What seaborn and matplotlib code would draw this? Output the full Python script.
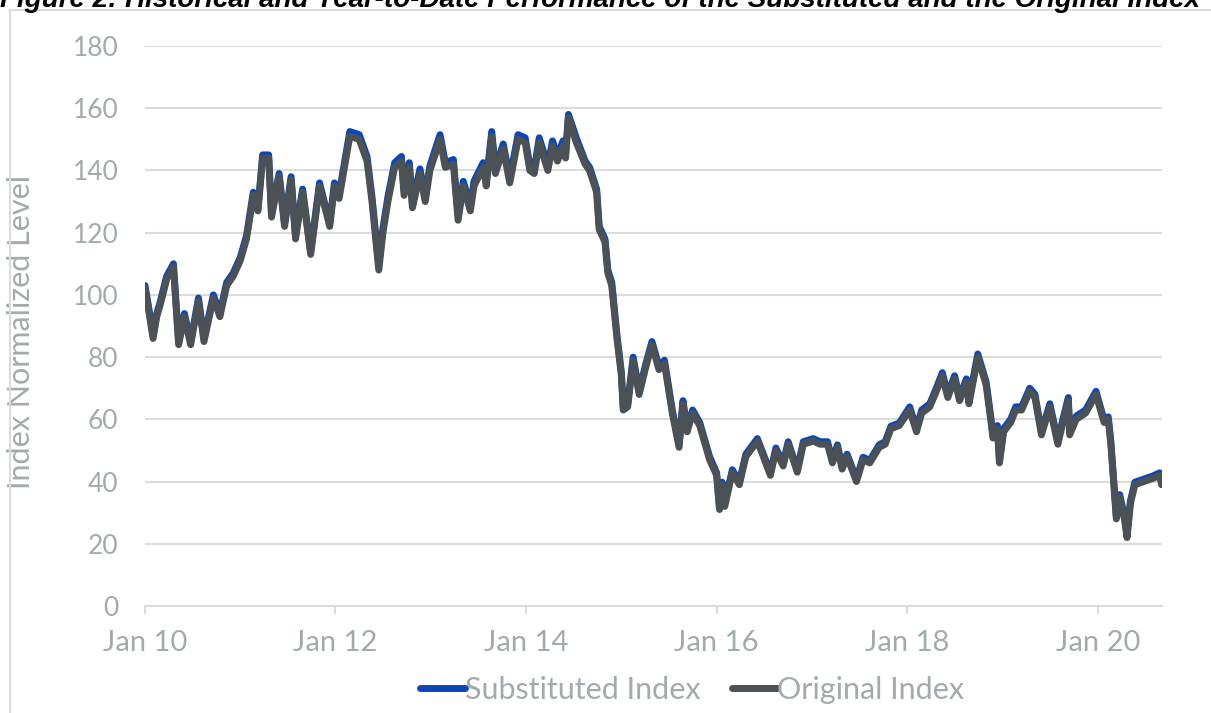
import matplotlib.pyplot as plt
import matplotlib.patches as mpatches
import pandas as pd
import seaborn as sns

# Datas (pontos aproximados da série)
dates = [
    "2010-01-01", "2010-01-15", "2010-02-01", "2010-02-15", "2010-03-01", "2010-03-25", "2010-04-20", "2010-05-10",
    "2010-06-01", "2010-06-25", "2010-07-25", "2010-08-15", "2010-09-20", "2010-10-15", "2010-11-10", "2010-12-05",
    "2011-01-01", "2011-01-25", "2011-02-20", "2011-03-10", "2011-03-28", "2011-04-20", "2011-05-01", "2011-05-30",
    "2011-06-20", "2011-07-15", "2011-08-01", "2011-08-28", "2011-09-28", "2011-11-01", "2011-12-10", "2011-12-28",
    "2012-01-15", "2012-02-25", "2012-04-01", "2012-05-01", "2012-05-20", "2012-06-15", "2012-07-01", "2012-07-20",
    "2012-08-15", "2012-09-10", "2012-09-20", "2012-10-10", "2012-10-22", "2012-11-20", "2012-12-10", "2012-12-28",
    "2013-02-05", "2013-02-25", "2013-03-28", "2013-04-15", "2013-05-05", "2013-06-01", "2013-06-15", "2013-07-20",
    "2013-08-01", "2013-08-22", "2013-09-05", "2013-10-05", "2013-10-30", "2013-12-01", "2013-12-28",
    "2014-01-15", "2014-02-01", "2014-02-20", "2014-03-25", "2014-04-12", "2014-05-01", "2014-05-22", "2014-06-01",
    "2014-06-12", "2014-07-12", "2014-08-15", "2014-09-01", "2014-09-28", "2014-10-08", "2014-10-30", "2014-11-10",
    "2014-11-25", "2014-12-15",
    "2015-01-01", "2015-01-08", "2015-01-25", "2015-02-15", "2015-03-10", "2015-04-05", "2015-04-28", "2015-05-25",
    "2015-06-15", "2015-07-15", "2015-08-10", "2015-08-25", "2015-09-10", "2015-10-01", "2015-10-28", "2015-12-05",
    "2016-01-01", "2016-01-12", "2016-01-22", "2016-02-01", "2016-03-01", "2016-03-28", "2016-04-22", "2016-06-05",
    "2016-06-28", "2016-07-25", "2016-08-15", "2016-09-12", "2016-10-01", "2016-11-05", "2016-11-28",
    "2017-01-05", "2017-02-01", "2017-03-01", "2017-03-20", "2017-04-08", "2017-04-26", "2017-05-15", "2017-06-20",
    "2017-07-15", "2017-08-10", "2017-09-15", "2017-10-08", "2017-10-30", "2017-12-01",
    "2018-01-10", "2018-02-05", "2018-02-25", "2018-03-28", "2018-04-22", "2018-05-15", "2018-06-05", "2018-07-01",
    "2018-07-20", "2018-08-15", "2018-08-25", "2018-09-28", "2018-10-30", "2018-11-18", "2018-11-25", "2018-12-12",
    "2018-12-20",
    "2019-01-05", "2019-02-01", "2019-02-20", "2019-03-15", "2019-04-15", "2019-05-05", "2019-05-30", "2019-07-01",
    "2019-08-01", "2019-08-20", "2019-09-10", "2019-09-15", "2019-10-10", "2019-11-15", "2019-12-25",
    "2020-01-25", "2020-02-10", "2020-02-20", "2020-03-05", "2020-03-12", "2020-03-25", "2020-04-12", "2020-04-22",
    "2020-05-05", "2020-05-22", "2020-06-25", "2020-07-30", "2020-08-25", "2020-09-01",
]

original = [
    102, 95, 86, 93, 97, 105, 109, 84, 93, 84, 98, 85, 99, 93, 103, 106,
    111, 118, 132, 127, 144, 144, 125, 138, 122, 137, 118, 133, 113, 135, 122, 135,
    131, 151, 150, 143, 130, 108, 120, 130, 141, 143, 132, 141, 128, 139, 130, 140,
    150, 141, 142, 124, 135, 127, 135, 141, 135, 151, 139, 147, 136, 150, 149,
    140, 139, 149, 140, 148, 143, 148, 144, 157, 149, 142, 140, 133, 121, 117, 107, 103, 86,
    74, 63, 64, 79, 68, 77, 84, 76, 78, 62, 51, 65, 56, 62, 58, 47,
    42, 31, 39, 32, 43, 39, 48, 53, 48, 42, 50, 45, 52, 43, 52,
    53, 52, 52, 46, 51, 44, 48, 40, 47, 46, 51, 52, 57, 58,
    63, 56, 62, 64, 69, 74, 67, 73, 66, 72, 65, 80, 71, 59, 54, 57, 46,
    56, 59, 63, 63, 69, 67, 55, 64, 52, 59, 66, 55, 60, 62, 68,
    59, 60, 52, 36, 28, 35, 28, 22, 33, 39, 40, 41, 42, 39,
]

substituted = [
    103, 96, 87, 94, 98, 106, 110, 85, 94, 85, 99, 86, 100, 94, 104, 107,
    112, 119, 133, 128, 145, 145, 126, 139, 123, 138, 119, 134, 114, 136, 123, 136,
    132.5, 152.5, 151.5, 144.5, 131.5, 109.5, 121.5, 131.5, 142.5, 144.5, 133.5, 142.5, 129.5, 140.5, 131.5, 141.5,
    151.5, 142.5, 143.5, 125.5, 136.5, 128.5, 136.5, 142.5, 136.5, 152.5, 140.5, 148.5, 137.5, 151.5, 150.5,
    141.5, 140.5, 150.5, 141.5, 149.5, 144.5, 149.5, 145.5, 158, 150.5, 143, 141, 134, 122, 118, 108, 104, 87,
    75, 64, 65, 80, 69, 78, 85, 77, 79, 63, 52, 66, 57, 63, 59, 48,
    42.8, 31.8, 39.8, 32.8, 43.8, 39.8, 48.8, 53.8, 48.8, 42.8, 50.8, 45.8, 52.8, 43.8, 52.8,
    53.8, 52.8, 52.8, 46.8, 51.8, 44.8, 48.8, 40.8, 47.8, 46.8, 51.8, 52.8, 57.8, 58.8,
    64, 57, 63, 65, 70, 75, 68, 74, 67, 73, 66, 81, 72, 60, 55, 58, 47,
    57, 60, 64, 64, 70, 68, 56, 65, 53, 60, 67, 56, 61, 63, 69,
    59.8, 60.8, 52.8, 36.8, 28.8, 35.8, 28.8, 22.8, 33.8, 39.8, 40.8, 41.8, 42.8, 39.8,
]

series_names = ["Substituted Index", "Original Index"]
series_colors = ["#0a47b8", "#4b5155"]
xtick_dates = ["2010-01-01", "2012-01-01", "2014-01-01", "2016-01-01", "2018-01-01", "2020-01-01"]
xtick_labels = ["Jan 10", "Jan 12", "Jan 14", "Jan 16", "Jan 18", "Jan 20"]
yticks = [0, 20, 40, 60, 80, 100, 120, 140, 160, 180]
title = "Figure 2: Historical and Year-to-Date Performance of the Substituted and the Original Index"

# Montando o dataframe em formato longo para o seaborn
df = pd.DataFrame({
    "date": pd.to_datetime(dates + dates),
    "level": substituted + original,
    "series": [series_names[0]] * len(dates) + [series_names[1]] * len(dates),
})

sns.set_theme(style="white")
plt.rcParams["font.family"] = ["Lato", "DejaVu Sans"]

grey_txt = "#a3aaae"
grid_col = "#dadcdd"

fig = plt.figure(figsize=(12.11, 7.13), dpi=100)
ax = fig.add_axes([145 / 1211, 1 - 606 / 713, (1162 - 145) / 1211, (606 - 46) / 713])

sns.lineplot(
    data=df, x="date", y="level", hue="series", hue_order=series_names,
    palette=series_colors, linewidth=5, estimator=None, sort=False, ax=ax,
)

ax.set_xlim(pd.Timestamp("2010-01-01"), pd.Timestamp("2020-09-03"))
ax.set_ylim(0, 180)
ax.set_yticks(yticks)
ax.set_xticks(pd.to_datetime(xtick_dates))
ax.set_xticklabels(xtick_labels)

ax.grid(axis="y", color=grid_col, linewidth=1.5)
ax.set_axisbelow(True)
for s in ["top", "right", "left"]:
    ax.spines[s].set_visible(False)
ax.spines["bottom"].set_color(grid_col)
ax.spines["bottom"].set_linewidth(1.5)

ax.tick_params(axis="x", length=6, width=1.5, color=grid_col, labelsize=21, labelcolor=grey_txt, pad=11, bottom=True)
ax.tick_params(axis="y", length=0, labelsize=19, labelcolor=grey_txt, pad=19)

ax.set_xlabel("")
ax.set_ylabel("Index Normalized Level", fontsize=22, color=grey_txt)
ax.yaxis.set_label_coords(-0.108, 0.49)

# Legenda embaixo do gráfico
leg = ax.legend(
    loc="center", bbox_to_anchor=(692 / 1211, 1 - 690 / 713), bbox_transform=fig.transFigure,
    ncol=2, frameon=False, fontsize=22, handlelength=1.5, handletextpad=0.0, columnspacing=1.0,
    labelcolor=grey_txt,
)
for line in leg.get_lines():
    line.set_linewidth(5)
    line.set_solid_capstyle("round")

# Moldura cinza e título cortado no topo
fig.patches.append(mpatches.Rectangle(
    (10 / 1211, -0.1), 1.2, 1.1 - 10 / 713, transform=fig.transFigure,
    fill=False, edgecolor=grid_col, linewidth=1.5,
))
fig.text(0.0, 1 - 7 / 713, title, fontsize=20, fontweight="bold", fontstyle="italic",
         family=["Liberation Sans", "DejaVu Sans"], va="baseline", ha="left", color="black")

fig.savefig("out.png", dpi=100)
